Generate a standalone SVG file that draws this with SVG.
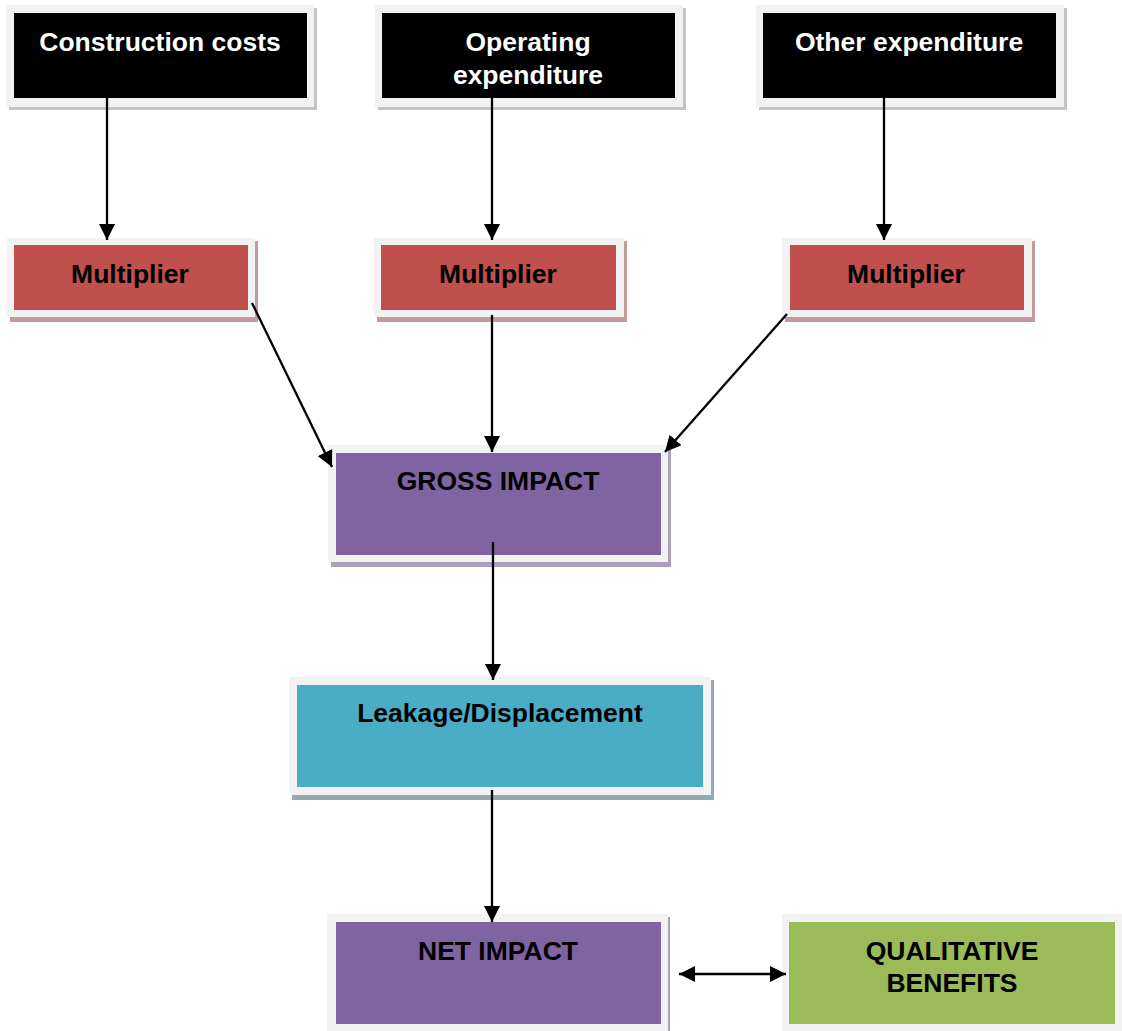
<svg xmlns="http://www.w3.org/2000/svg" width="1122" height="1031" viewBox="0 0 1122 1031">
<defs>
<style>
.frame{fill:#f2f2f2}
.t{font-family:"Liberation Sans",Arial,sans-serif;font-weight:bold;font-size:26.5px;text-anchor:middle}
.w{fill:#ffffff}
.k{fill:#000000}
.c{stroke:#000;stroke-width:2.3;fill:none}
</style>
<marker id="ah" viewBox="0 0 16 16" refX="16" refY="8" markerWidth="16" markerHeight="16" markerUnits="userSpaceOnUse" orient="auto-start-reverse">
<path d="M0,0 L16,8 L0,16 Z" fill="#000"/>
</marker>
</defs>
<rect width="1122" height="1031" fill="#ffffff"/>

<g id="construction">
<rect x="9" y="8" width="308" height="102" fill="#c4c4c4"/>
<rect class="frame" x="6" y="5" width="308" height="102"/>
<rect x="14" y="13" width="293" height="85" fill="#000"/>
<text class="t w" x="160" y="51">Construction costs</text>
</g>
<g id="operating">
<rect x="378" y="8" width="308" height="102" fill="#c4c4c4"/>
<rect class="frame" x="375" y="5" width="308" height="102"/>
<rect x="382" y="13" width="293" height="85" fill="#000"/>
<text class="t w" x="528" y="51">Operating</text>
<text class="t w" x="528" y="84">expenditure</text>
</g>
<g id="other">
<rect x="759" y="8" width="308" height="102" fill="#c4c4c4"/>
<rect class="frame" x="756" y="5" width="308" height="102"/>
<rect x="763" y="13" width="293" height="85" fill="#000"/>
<text class="t w" x="909" y="51">Other expenditure</text>
</g>

<g id="mult1">
<rect x="10" y="241" width="248" height="81" fill="#c49a9a"/>
<rect class="frame" x="7" y="238" width="248" height="79"/>
<rect x="14" y="245" width="234" height="65" fill="#c0504d"/>
<text class="t k" x="130" y="283">Multiplier</text>
</g>
<g id="mult2">
<rect x="377" y="241" width="250" height="81" fill="#c49a9a"/>
<rect class="frame" x="374" y="238" width="250" height="79"/>
<rect x="381" y="245" width="235" height="65" fill="#c0504d"/>
<text class="t k" x="498" y="283">Multiplier</text>
</g>
<g id="mult3">
<rect x="785" y="241" width="250" height="81" fill="#c49a9a"/>
<rect class="frame" x="782" y="238" width="250" height="79"/>
<rect x="790" y="245" width="234" height="65" fill="#c0504d"/>
<text class="t k" x="906" y="283">Multiplier</text>
</g>

<g id="gross">
<rect x="331" y="448" width="340" height="119" fill="#aaa0bc"/>
<rect class="frame" x="328" y="445" width="340" height="117"/>
<rect x="336" y="453" width="325" height="102" fill="#8064a2"/>
<text class="t k" x="498" y="490">GROSS IMPACT</text>
</g>

<g id="leakage">
<rect x="292" y="680" width="422" height="120" fill="#93aab3"/>
<rect class="frame" x="289" y="677" width="422" height="118"/>
<rect x="297" y="685" width="406" height="102" fill="#4bacc6"/>
<text class="t k" x="500" y="722">Leakage/Displacement</text>
</g>

<g id="net">
<rect x="330" y="917" width="340" height="120" fill="#aaa0bc"/>
<rect class="frame" x="327" y="914" width="341" height="120"/>
<rect x="336" y="922" width="325" height="102" fill="#8064a2"/>
<text class="t k" x="498" y="960">NET IMPACT</text>
</g>

<g id="qualitative">
<rect class="frame" x="782" y="914" width="340" height="120"/>
<rect x="789" y="922" width="326" height="102" fill="#9bbb59"/>
<text class="t k" x="952" y="960">QUALITATIVE</text>
<text class="t k" x="952" y="992">BENEFITS</text>
</g>

<g id="connectors">
<line class="c" x1="107" y1="98" x2="107" y2="240" marker-end="url(#ah)"/>
<line class="c" x1="492" y1="98" x2="492" y2="240" marker-end="url(#ah)"/>
<line class="c" x1="884" y1="98" x2="884" y2="240" marker-end="url(#ah)"/>
<line class="c" x1="252" y1="303" x2="332" y2="467" marker-end="url(#ah)"/>
<line class="c" x1="492" y1="315" x2="492" y2="452" marker-end="url(#ah)"/>
<line class="c" x1="787" y1="314" x2="665" y2="452" marker-end="url(#ah)"/>
<line class="c" x1="493" y1="542" x2="493" y2="680" marker-end="url(#ah)"/>
<line class="c" x1="492" y1="790" x2="492" y2="922" marker-end="url(#ah)"/>
<line class="c" x1="679" y1="974" x2="786" y2="974" marker-start="url(#ah)" marker-end="url(#ah)"/>
</g>
</svg>
